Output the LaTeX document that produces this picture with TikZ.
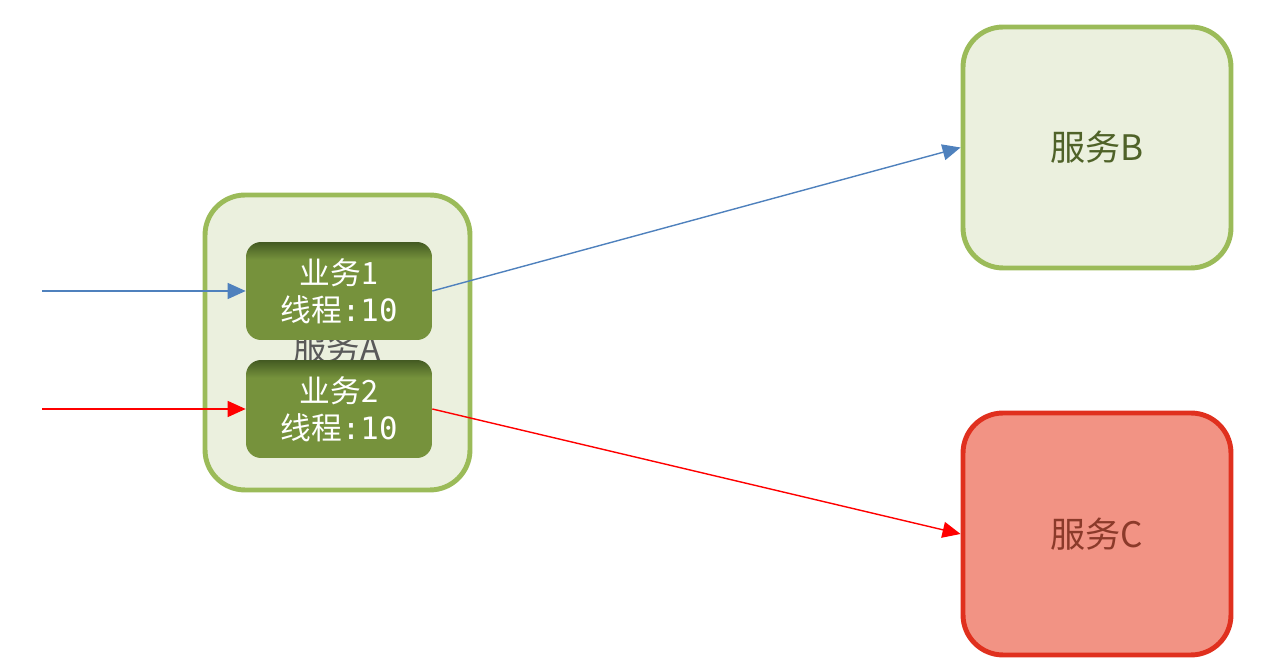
\documentclass[tikz,border=0pt]{standalone}
\usepackage{fontspec}
\usetikzlibrary{arrows.meta}
\newfontfamily\cjk{Noto Sans CJK SC}
\newfontfamily\monofont{DejaVu Sans Mono}
\definecolor{svcfill}{HTML}{EBF0DE}
\definecolor{svcline}{HTML}{9BBB59}
\definecolor{svctext}{HTML}{4F6228}
\definecolor{bizfill}{HTML}{76923C}
\definecolor{bizdark}{HTML}{435A22}
\definecolor{badfill}{HTML}{F29384}
\definecolor{badline}{HTML}{E0301E}
\definecolor{badtext}{HTML}{8B3A2A}
\definecolor{callblue}{HTML}{4F81BD}
\definecolor{callred}{HTML}{FF0000}
\pgfdeclareverticalshading{bizshade}{100bp}{color(0bp)=(bizfill); color(66bp)=(bizfill);
  color(75bp)=(bizdark); color(100bp)=(bizdark)}
\begin{document}
\begin{tikzpicture}[x=0.02cm, y=-0.02cm,
  service/.style={draw=svcline, line width=2.8pt, fill=svcfill, rounded corners=0.8cm,
    text=svctext, font=\cjk\fontsize{20}{24}\selectfont},
  badservice/.style={service, draw=badline, fill=badfill, text=badtext},
  bizbox/.style={rounded corners=0.3cm, minimum width=3.72cm, minimum height=1.96cm,
    shading=bizshade, shading angle=0, text=white, align=center,
    font=\cjk\fontsize{17.5}{21}\selectfont},
  call/.style={-{Triangle[length=0.36cm, width=0.32cm]}, line width=0.8pt}
]
\useasboundingbox (0,0) rectangle (1279,671);

% the services
\node[service, minimum width=5.3cm, minimum height=5.9cm] (svcA) at (337.5,342.5) {};
\node[text=black!65, font=\cjk\fontsize{19}{22}\selectfont] (labelA) at (337,348) {服务A};
\node[service, minimum width=5.36cm, minimum height=4.82cm] (svcB) at (1097,147.5) {服务B};
\node[badservice, minimum width=5.36cm, minimum height=4.84cm] (svcC) at (1097,534) {服务C};

% the two businesses inside A
\node[bizbox] (biz1) at (339,291) {业务1\\线程{\monofont:10}};
\node[bizbox] (biz2) at (339,409) {业务2\\线程{\monofont:10}};

% calls
\coordinate (in1) at (42,291);
\coordinate (in2) at (42,409);
\draw[call, callblue] (in1) -- (biz1.west);
\draw[call, callred] (in2) -- (biz2.west);
\draw[call, callblue] (biz1.east) -- (svcB.west);
\draw[call, callred] (biz2.east) -- (svcC.west);
\end{tikzpicture}
\end{document}
